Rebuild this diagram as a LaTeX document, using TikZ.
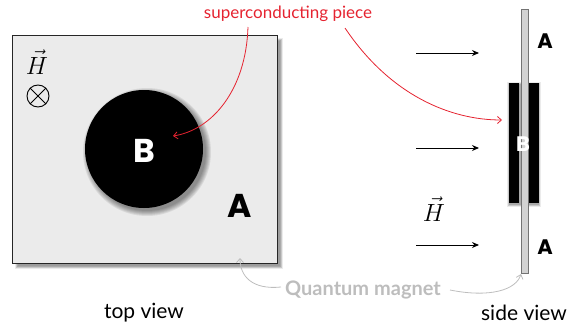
\documentclass[tikz,border=0pt]{standalone}
\usepackage{fontspec}
\setmainfont{Lato}
\newfontfamily\heavy{Poppins}
\usetikzlibrary{arrows.meta}
\definecolor{plate}{HTML}{EBEBEB}
\definecolor{slab}{HTML}{D2D2D2}
\definecolor{redc}{HTML}{E52330}
\definecolor{grayc}{HTML}{BDBDBD}
\tikzset{
  lbl/.style={font=\fontsize{21}{21}\selectfont, inner sep=0pt},
  biglet/.style={font=\heavy\bfseries\fontsize{33}{33}\selectfont, inner sep=0pt},
  smlet/.style={font=\heavy\bfseries\fontsize{21}{21}\selectfont, inner sep=0pt},
  hvec/.style={font=\fontsize{24}{24}\selectfont, inner sep=0pt},
  redarrow/.style={draw=redc, line width=0.8pt, -{Straight Barb[length=4pt,width=7pt]}},
  grayarrow/.style={draw=grayc, line width=0.8pt, -{Straight Barb[length=4pt,width=7pt]}},
  fieldarrow/.style={draw=black, line width=1pt, -{Stealth[length=7pt,width=6pt]}},
}
\begin{document}
\begin{tikzpicture}[x=1pt,y=-1pt]
\useasboundingbox (0,0) rectangle (574,324);
% top view plate shadow
\foreach \k in {0,...,5}{
  \fill[black, opacity=0.08] ({12+3+\k*0.6},{35+3+\k*0.6}) rectangle ({277+6-\k*0.6},{263+6-\k*0.6});
}
\node[draw=black!85, line width=1.2pt, fill=plate, minimum width=265pt, minimum height=228pt, inner sep=0pt, anchor=north west] (plate) at (12,35) {};
% circle shadow
\foreach \k in {0,...,5}{
  \fill[black, opacity=0.08] (147,152) circle ({64-\k*1pt});
}
\node[circle, fill=black, minimum size=118pt, inner sep=0pt] (disk) at (144,149) {};
\node[biglet, text=white] (Bt) at (144,151) {B};
\node[biglet] (At) at (240,206) {A};
\node[hvec] (Ht) at (37,62) {$\vec{H}$};
\node[circle, draw=black, line width=0.9pt, minimum size=22pt, inner sep=0pt] (otimes) at (38,96) {};
\draw[line width=0.9pt] (otimes.north west) -- (otimes.south east);
\draw[line width=0.9pt] (otimes.north east) -- (otimes.south west);
% side view
\foreach \k in {0,...,4}{
  \fill[black, opacity=0.08] ({509-2+\k*0.6},{83-1+\k*0.6}) rectangle ({539+2-\k*0.6},{203+4-\k*0.6});
}
\node[fill=black, minimum width=10pt, minimum height=120pt, inner sep=0pt, anchor=north west] (barL) at (509,83) {};
\node[fill=black, minimum width=10pt, minimum height=120pt, inner sep=0pt, anchor=north west] (barR) at (529,83) {};
\node[draw=black!55, line width=0.6pt, fill=slab, minimum width=7pt, minimum height=264pt, inner sep=0pt, anchor=north west] (slab) at (521,9) {};
\node[smlet, text=white] (Bs) at (523,144) {B};
\node[smlet] (As1) at (545,41) {A};
\node[smlet] (As2) at (545,247) {A};
\coordinate (a1s) at (416,53); \coordinate (a1e) at (479,53);
\coordinate (a2s) at (416,148); \coordinate (a2e) at (479,148);
\coordinate (a3s) at (416,245); \coordinate (a3e) at (479,245);
\draw[fieldarrow] (a1s) -- (a1e);
\draw[fieldarrow] (a2s) -- (a2e);
\draw[fieldarrow] (a3s) -- (a3e);
\node[hvec] (Hs) at (434,209) {$\vec{H}$};
% labels
\node[font=\fontsize{17}{17}\selectfont, text=redc, inner sep=0pt] (sc) at (288,14) {superconducting piece};
\node[font=\bfseries\fontsize{20}{20}\selectfont, text=grayc, inner sep=0pt] (qm) at (363,290) {Quantum magnet};
\node[lbl] (tv) at (144,313) {top view};
\node[lbl] (sv) at (524,313) {side view};
% connectors
\coordinate (r1) at (248,27);
\coordinate (r1e) at (173,136);
\coordinate (r2) at (345,28);
\coordinate (r2e) at (502,120);
\draw[redarrow] (r1) .. controls (246,90) and (212,130) .. (r1e);
\draw[redarrow] (r2) .. controls (390,95) and (450,120) .. (r2e);
\coordinate (g1) at (281,287);
\coordinate (g1e) at (240,258);
\coordinate (g2) at (450,290);
\coordinate (g2e) at (521,274);
\draw[grayarrow] (g1) .. controls (252,290) and (240,276) .. (g1e);
\draw[grayarrow] (g2) .. controls (490,298) and (516,290) .. (g2e);
\end{tikzpicture}
\end{document}
